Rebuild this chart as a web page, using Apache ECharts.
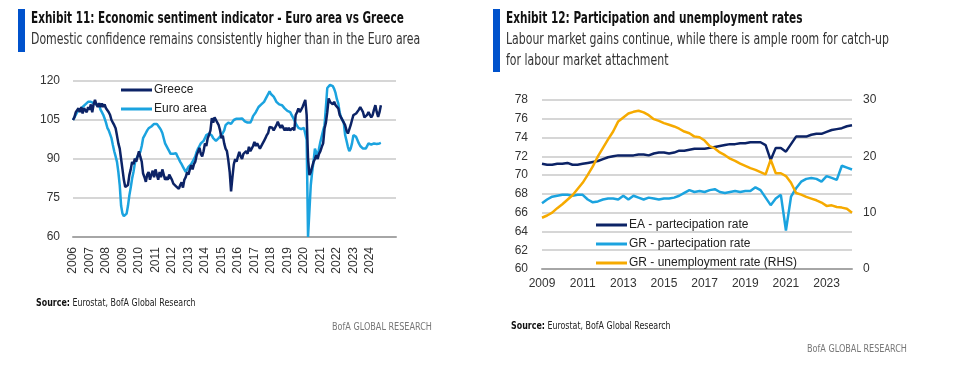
<!DOCTYPE html>
<html><head><meta charset="utf-8">
<script src="https://cdn.jsdelivr.net/npm/echarts@6/dist/echarts.min.js"></script>
<style>html,body{margin:0;padding:0;background:#fff}#c{width:953px;height:387px}</style>
</head><body><div id="c"></div>
<script>
// ---------- Exhibit 11: Economic sentiment indicator (monthly, Jan 2006 - Sep 2024) ----------
const esiStartYear = 2006;
const esiAxisMonths = 236; // axis runs to Aug 2025
const esiYearLabels = ['2006','2007','2008','2009','2010','2011','2012','2013','2014','2015','2016','2017','2018','2019','2020','2021','2022','2023','2024'];
const greeceESI = [
  105,106,108,108.5,109.5,108,110,107.5,109.5,110,108,110,
  109,111,108,111,112.7,111,110,111.5,110,111.4,110,111,
  109.5,110,108,106.9,105,104,103,101.8,99,96,94,90,
  86,82,79.2,79,80,83.8,86,88.9,88,90.2,89,91,
  93,90.8,89,84.4,83,81.2,84,85,82,84,85.5,83,
  86,84,82,85,83,86,84,82,83,82,84,83.5,
  82,80.5,81,79.5,79.2,78.5,80,81,79,82,83,85,
  84,86,87.6,86,88,89,91.5,92,94.3,92,91,93,
  96,95,98,99.3,101,105.7,104,106,105,104,103,101,
  98,99,96,94,93,89.5,85,77.5,83,88,90,89,
  91,92.7,91,90,92,91.5,93,92,94.7,93,94,95,
  96.6,95,96,95,94,94.7,96,97,98,99.2,100,102.3,
  103,102,101,101.7,103,104.3,103,102,103,102.3,101,102,
  101,102,101,101.7,102,101,106.9,108,109.5,108,109,110,
  110,112.7,106.9,90.2,83.8,85,87,88.9,90,91.5,90,92,
  93,94.7,96,101.7,104,108,113.3,112,112.7,111,112,110.7,
  110,109.5,107,106,105.6,104,103,101,99.8,100,103,105,
  106.9,107,107.5,108,109,110,110.7,108,106,105.6,107,108,
  107,106,106.9,109,110.7,108,106.2,108,110.7
];
const euroESI = [
  105,106,107,108,108.5,109,109.5,110,110,111,111.5,112,
  112.7,112,112,111.5,112,111,111,111,109,108,107,105.6,
  104,102,101,100.5,98,95.4,93,91,88.9,85,79.9,72,
  69,68,67.6,69,72,76,79,82.5,85,88.3,90,91,
  92,92.8,95,98,99,100,101,101.8,102,102.5,103,103.5,
  103.8,103.5,103,102,101.2,100,98,96,95.4,94,93,92,
  91.5,92,92.5,92.2,91,90,88.9,88,87,86,85,86,
  87,87.6,88,89,90,91,92.8,94,95,96,96.6,97,
  98,99.2,99.5,99.8,100,99,98,97.5,97,97.4,98,98.5,
  99.2,100,101,103,103.5,104,104,103.5,104,105,105,105.5,
  105,105.5,105,105.6,105,104.5,104,104,103.7,104,105,106.5,
  107,108,108.5,110,110,111,111.5,112,112.7,114,115,116,
  115,114.5,114,113,112,111.5,111,111,110.7,110,109.5,109,
  108.5,108,108,107,106,105,103.7,103,102,101.7,101.5,102,
  102,102.3,97.4,60,70,80,85,89,94,94,91,94,
  96.6,96,101,103,110,117.3,118,118.5,119.2,118,117,115.4,
  113,111.4,108,106,105.6,104,99.2,97,94.7,93,94,96,
  99.2,99,98.5,98,96,95,94.7,94,93.5,94,94.5,96,
  96,95.5,96,96,96,95.8,96,96,96.2
];
const esiSeriesNames = ['Greece','Euro area'];

// ---------- Exhibit 12: Participation & unemployment (quarterly, 2009Q1 - 2024Q2) ----------
const lmStartYear = 2009;
const lmQuarterCount = 62;
const lmYearLabels = ['2009','2011','2013','2015','2017','2019','2021','2023'];
const eaParticipation = [
  71.2,71.1,71.1,71.2, 71.2,71.3,71.1,71.1, 71.2,71.3,71.4,71.5, 71.7,71.9,72.0,72.1,
  72.1,72.1,72.1,72.2, 72.2,72.1,72.3,72.4, 72.4,72.3,72.4,72.6, 72.6,72.7,72.8,72.8,
  72.8,72.9,73.0,73.1, 73.2,73.3,73.3,73.4, 73.4,73.5,73.5,73.5, 73.2,71.6,72.9,72.9,
  72.5,73.3,74.1,74.1, 74.1,74.3,74.4,74.4, 74.6,74.8,74.9,75.0, 75.2,75.3
];
const grParticipation = [
  67.0,67.4,67.7,67.8, 67.9,67.9,67.8,67.9, 67.9,67.4,67.1,67.2, 67.4,67.5,67.5,67.4,
  67.8,67.4,67.8,67.6, 67.4,67.6,67.5,67.4, 67.5,67.5,67.6,67.8, 68.1,68.4,68.2,68.3,
  68.2,68.4,68.5,68.2, 68.1,68.2,68.3,68.2, 68.3,68.3,68.7,68.4, 67.6,66.8,67.5,67.9,
  64.1,67.7,68.6,69.3, 69.6,69.7,69.6,69.3, 69.9,69.7,69.5,71.0, 70.8,70.6
];
const grUnemployment = [
  9.1,9.5,10.0,10.8, 11.5,12.3,13.1,14.2, 15.3,16.7,18.2,20.0, 21.5,23.0,24.4,26.2,
  26.9,27.6,27.9,28.1, 27.8,27.3,26.6,26.3, 25.9,25.6,25.3,24.9, 24.4,24.1,23.5,23.4,
  22.8,21.8,21.4,20.7, 20.2,19.6,19.2,18.7, 18.3,17.9,17.6,17.2, 16.8,19.4,17.0,17.0,
  16.5,15.3,13.5,13.2, 12.8,12.5,12.2,11.8, 11.2,11.3,11.0,10.9, 10.7,10.0
];
const lmSeriesNames = ['EA - partecipation rate','GR - partecipation rate','GR - unemployment rate (RHS)'];

// ---------- build categories ----------
const esiCats = [];
for (let i = 0; i < esiAxisMonths; i++) {
  const y = esiStartYear + Math.floor(i / 12), m = i % 12 + 1;
  esiCats.push(y + '-' + (m < 10 ? '0' + m : m));
}
const lmCats = [];
for (let i = 0; i < lmQuarterCount; i++) {
  lmCats.push((lmStartYear + Math.floor(i / 4)) + 'Q' + (i % 4 + 1));
}

const NAVY = '#0c2366', LIGHT = '#1ba3df', ORANGE = '#f6aa00', ACCENT = '#0052cc';
const GRID = '#d6d6d6', AXIS = '#a6a6a6';
const TFONT = '"DejaVu Sans Condensed","Liberation Sans",sans-serif';
const LFONT = '"Liberation Sans",Arial,sans-serif';

const chart = echarts.init(document.getElementById('c'), null, {renderer: 'canvas'});

function txt(x, y, text, size, weight, color, sx) {
  return {type: 'text', x: x, y: y, scaleX: sx, style: {text: text, fontSize: size, fontWeight: weight || 'normal',
    fill: color || '#222', fontFamily: TFONT, verticalAlign: 'middle', align: 'left'}};
}
function src(x, y) {
  return {type: 'text', x: x, y: y, scaleX: 0.88, style: {text: '{b|Source:} Eurostat, BofA Global Research', fontSize: 10,
    fontFamily: TFONT, fill: '#222', verticalAlign: 'middle',
    rich: {b: {fontWeight: 'bold', fontSize: 10, fontFamily: TFONT, fill: '#111'}}}};
}

chart.setOption({
  animation: false,
  backgroundColor: '#fff',
  graphic: [
    {type: 'rect', shape: {x: 18, y: 9, width: 7, height: 43}, style: {fill: ACCENT}},
    txt(31, 19, 'Exhibit 11: Economic sentiment indicator - Euro area vs Greece', 15, 'bold', '#111', 0.775),
    txt(31, 40, 'Domestic confidence remains consistently higher than in the Euro area', 15, 'normal', '#333', 0.81),
    {type: 'rect', shape: {x: 493, y: 9, width: 7, height: 63}, style: {fill: ACCENT}},
    txt(506, 19, 'Exhibit 12: Participation and unemployment rates', 15, 'bold', '#111', 0.78),
    txt(506, 40, 'Labour market gains continue, while there is ample room for catch-up', 15, 'normal', '#333', 0.81),
    txt(506, 61, 'for labour market attachment', 15, 'normal', '#333', 0.81),
    src(36, 303),
    src(511, 326),
    txt(332, 327, 'BofA GLOBAL RESEARCH', 10, 'normal', '#777', 0.9),
    txt(807, 349, 'BofA GLOBAL RESEARCH', 10, 'normal', '#777', 0.9)
  ],
  legend: [
    {data: esiSeriesNames, orient: 'vertical', left: 116, top: 79, itemWidth: 31, itemHeight: 3, itemGap: 7,
     icon: 'rect', textStyle: {fontFamily: LFONT, fontSize: 12, color: '#222', padding: [0, 0, 0, -3]}},
    {data: lmSeriesNames, orient: 'vertical', left: 591, top: 214, itemWidth: 31, itemHeight: 3, itemGap: 7,
     icon: 'rect', textStyle: {fontFamily: LFONT, fontSize: 12, color: '#222', padding: [0, 0, 0, -3]}}
  ],
  grid: [
    {left: 73, top: 81, width: 323, height: 156},
    {left: 542, top: 100, width: 310, height: 169}
  ],
  xAxis: [
    {type: 'category', gridIndex: 0, data: esiCats, boundaryGap: false,
     axisLine: {lineStyle: {color: AXIS, width: 2}}, axisTick: {show: false},
     axisLabel: {rotate: 90, margin: 10, fontFamily: LFONT, fontSize: 12, color: '#333',
       interval: function (i, v) { return v.slice(5) === '01' && esiYearLabels.indexOf(v.slice(0, 4)) >= 0; },
       formatter: function (v) { return v.slice(0, 4); }}},
    {type: 'category', gridIndex: 1, data: lmCats, boundaryGap: false,
     axisLine: {lineStyle: {color: AXIS, width: 2}}, axisTick: {show: false},
     axisLabel: {margin: 9, fontFamily: LFONT, fontSize: 12, color: '#333',
       interval: function (i, v) { return v.slice(4) === 'Q1' && lmYearLabels.indexOf(v.slice(0, 4)) >= 0; },
       formatter: function (v) { return v.slice(0, 4); }}}
  ],
  yAxis: [
    {type: 'value', gridIndex: 0, min: 60, max: 120, interval: 15,
     axisLine: {show: false}, axisTick: {show: false},
     splitLine: {lineStyle: {color: GRID, width: 2}},
     axisLabel: {margin: 13, fontFamily: LFONT, fontSize: 12, color: '#333'}},
    {type: 'value', gridIndex: 1, min: 60, max: 78, interval: 2,
     axisLine: {show: false}, axisTick: {show: false},
     splitLine: {lineStyle: {color: GRID, width: 2}},
     axisLabel: {margin: 14, fontFamily: LFONT, fontSize: 12, color: '#333'}},
    {type: 'value', gridIndex: 1, position: 'right', min: 0, max: 30, interval: 10,
     axisLine: {show: false}, axisTick: {show: false}, splitLine: {show: false},
     axisLabel: {margin: 11, fontFamily: LFONT, fontSize: 12, color: '#333'}}
  ],
  series: [
    {name: esiSeriesNames[1], type: 'line', xAxisIndex: 0, yAxisIndex: 0, data: euroESI, showSymbol: false,
     lineStyle: {color: LIGHT, width: 2.5}, itemStyle: {color: LIGHT}, z: 2},
    {name: esiSeriesNames[0], type: 'line', xAxisIndex: 0, yAxisIndex: 0, data: greeceESI, showSymbol: false,
     lineStyle: {color: NAVY, width: 2.5}, itemStyle: {color: NAVY}, z: 3},
    {name: lmSeriesNames[0], type: 'line', xAxisIndex: 1, yAxisIndex: 1, data: eaParticipation, showSymbol: false,
     lineStyle: {color: NAVY, width: 2.5}, itemStyle: {color: NAVY}},
    {name: lmSeriesNames[1], type: 'line', xAxisIndex: 1, yAxisIndex: 1, data: grParticipation, showSymbol: false,
     lineStyle: {color: LIGHT, width: 2.5}, itemStyle: {color: LIGHT}},
    {name: lmSeriesNames[2], type: 'line', xAxisIndex: 1, yAxisIndex: 2, data: grUnemployment, showSymbol: false,
     lineStyle: {color: ORANGE, width: 2.5}, itemStyle: {color: ORANGE}}
  ]
});
</script>
</body></html>
